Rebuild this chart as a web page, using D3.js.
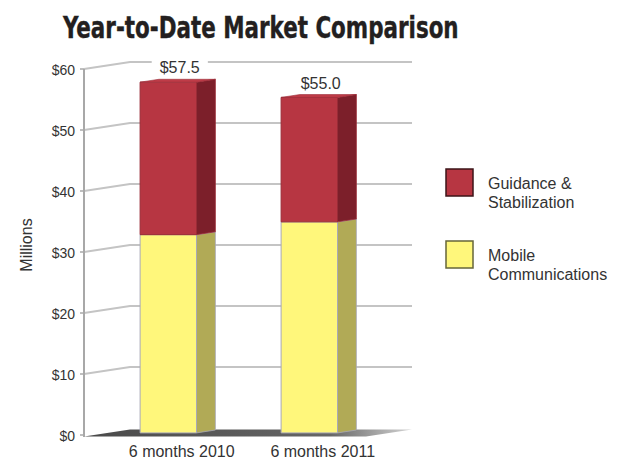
<!DOCTYPE html>
<html>
<head>
<meta charset="utf-8">
<script src="https://cdn.jsdelivr.net/npm/d3@7"></script>
<style>
  html, body { margin: 0; padding: 0; background: #fff; }
  svg { display: block; }
</style>
</head>
<body>
<div id="chart"></div>
<script>
// ---------------------------------------------
// DATA
// ---------------------------------------------
const categories = ["6 months 2010", "6 months 2011"];
const mobileValues = [32.5, 34.6];
const guidanceValues = [25.0, 20.4];
const yTicks = [0, 10, 20, 30, 40, 50, 60];
const seriesKeys = ["mobile", "guidance"];
const legendLines = [["Guidance &", "Stabilization"], ["Mobile", "Communications"]];
const legendKeys = ["guidance", "mobile"];

const drawChart = () => {

  // -----------------------------
  // DIMENSIONS + 3D PROJECTION
  // depth is drawn as a shift right/up
  // -----------------------------
  const width = 620;
  const height = 460;
  const plot = { left: 84, right: 366, top: 69, bottom: 435 };
  const depthX = 46, depthY = -7;
  const barZ0 = 0.3, barZ1 = 0.71;

  const proj = (x, y, z) => [x + z * depthX, y + z * depthY];

  const colors = {
    mobile:   { front: "#fff77b", side: "#b1aa56", top: "#fffaa6", stroke: "#a8a8b8" },
    guidance: { front: "#b73642", side: "#7c1f2a", top: "#bf3c48", stroke: "#9a2c37" }
  };

  const svg = d3.select("#chart")
    .append("svg")
    .attr("width", width)
    .attr("height", height)
    .attr("viewBox", `0 0 ${width} ${height}`);

  // -----------------------------
  // SCALES
  // -----------------------------
  const x = d3.scaleBand()
    .domain(categories)
    .range([plot.left, plot.right])
    .paddingInner(0.6)
    .paddingOuter(0.3);

  const y = d3.scaleLinear()
    .domain([0, 60])
    .range([plot.bottom, plot.top]);

  const rows = categories.map((c, i) => ({ cat: c, mobile: mobileValues[i], guidance: guidanceValues[i] }));
  const stacked = d3.stack().keys(seriesKeys)(rows);

  // -----------------------------
  // TITLE (condensed heavy look: fit width, stretch height)
  // -----------------------------
  const titleG = svg.append("g");
  const title = titleG.append("text")
    .attr("x", 0)
    .attr("y", 0)
    .style("font-family", "'Liberation Sans Narrow', 'DejaVu Sans Condensed', sans-serif")
    .style("font-weight", "bold")
    .style("font-size", "30px")
    .style("fill", "#231f20")
    .style("stroke", "#231f20")
    .style("stroke-width", "0.3px")
    .text("Year-to-Date Market Comparison");
  const tw = title.node().getComputedTextLength();
  const fs = 30 * 396 / tw;
  title.style("font-size", fs.toFixed(2) + "px");
  const sy = 22.5 / (0.729 * fs);
  titleG.attr("transform", `translate(63,37.5) scale(1,${sy.toFixed(3)})`);

  // -----------------------------
  // GRIDLINES (front -> back wall)
  // -----------------------------
  const grid = svg.append("g").attr("class", "grid");
  grid.selectAll("polyline")
    .data(yTicks.filter(d => d > 0))
    .join("polyline")
    .attr("points", d => {
      const a = proj(plot.left, y(d), 0);
      const b = proj(plot.left, y(d), 1);
      const c = proj(plot.right, y(d), 1);
      return [a, b, c].map(p => p.join(",")).join(" ");
    })
    .attr("fill", "none")
    .attr("stroke", "#c4c4c4")
    .attr("stroke-width", 2);

  // -----------------------------
  // FLOOR
  // -----------------------------
  const grad = svg.append("defs").append("linearGradient")
    .attr("id", "floorGrad")
    .attr("gradientUnits", "userSpaceOnUse")
    .attr("x1", plot.left).attr("x2", plot.right + depthX)
    .attr("y1", 0).attr("y2", 0);
  grad.append("stop").attr("offset", 0).attr("stop-color", "#4a4a4a");
  grad.append("stop").attr("offset", 0.75).attr("stop-color", "#666");
  grad.append("stop").attr("offset", 1).attr("stop-color", "#d4d4d4");

  const fy = y(0) + 1.5;
  svg.append("polygon")
    .attr("points", [
      proj(plot.left, fy, 0), proj(plot.left, fy, 1),
      proj(plot.right, fy, 1), proj(plot.right, fy, 0)
    ].map(p => p.join(",")).join(" "))
    .attr("fill", "url(#floorGrad)");

  // -----------------------------
  // Y AXIS (front edge) + LABELS
  // -----------------------------
  svg.append("line")
    .attr("x1", plot.left).attr("x2", plot.left)
    .attr("y1", y(60)).attr("y2", y(0) + 2)
    .attr("stroke", "#a8a8a8")
    .attr("stroke-width", 2);

  const ticks = svg.append("g").attr("class", "y-ticks");
  ticks.selectAll("line")
    .data(yTicks)
    .join("line")
    .attr("x1", plot.left - 4).attr("x2", plot.left)
    .attr("y1", d => y(d)).attr("y2", d => y(d))
    .attr("stroke", "#a8a8a8")
    .attr("stroke-width", 1.5);

  ticks.selectAll("text")
    .data(yTicks)
    .join("text")
    .attr("x", 75)
    .attr("y", d => y(d) + 6)
    .attr("text-anchor", "end")
    .style("font-family", "'Liberation Sans', Arial, sans-serif")
    .style("font-size", "14px")
    .style("fill", "#333")
    .text(d => "$" + d);

  svg.append("text")
    .attr("transform", "translate(32,245) rotate(-90)")
    .attr("text-anchor", "middle")
    .style("font-family", "'Liberation Sans', Arial, sans-serif")
    .style("font-size", "16px")
    .style("fill", "#333")
    .text("Millions");

  // -----------------------------
  // STACKED 3D BARS
  // draw bottom segment first so upper faces cover it
  // -----------------------------
  const bw = x.bandwidth();
  const barCenter = cat => x(cat) + barZ0 * depthX + (bw + (barZ1 - barZ0) * depthX) / 2;
  const bars = svg.append("g").attr("class", "bars");

  stacked.forEach(layer => {
    const c = colors[layer.key];
    layer.forEach(seg => {
      const x0 = x(seg.data.cat);
      const yb = y(seg[0]), yt = y(seg[1]);
      const fbl = proj(x0, yb, barZ0), ftl = proj(x0, yt, barZ0);
      const fbr = proj(x0 + bw, yb, barZ0), ftr = proj(x0 + bw, yt, barZ0);
      const bbr = proj(x0 + bw, yb, barZ1), btr = proj(x0 + bw, yt, barZ1);
      const btl = proj(x0, yt, barZ1);
      const pts = arr => arr.map(p => p.join(",")).join(" ");

      bars.append("polygon")
        .attr("points", pts([fbr, ftr, btr, bbr]))
        .attr("fill", c.side)
        .attr("stroke", c.stroke).attr("stroke-width", 0.8);

      bars.append("polygon")
        .attr("points", pts([fbl, ftl, ftr, fbr]))
        .attr("fill", c.front)
        .attr("stroke", c.stroke).attr("stroke-width", 1);

      bars.append("polygon")
        .attr("points", pts([ftl, btl, btr, ftr]))
        .attr("fill", c.top)
        .attr("stroke", c.stroke).attr("stroke-width", 0.6);
    });
  });

  // -----------------------------
  // TOTAL LABELS (white box cuts the gridline)
  // -----------------------------
  const fmt = d3.format("$.1f");
  const top = stacked[stacked.length - 1];
  top.forEach(seg => {
    const g = svg.append("g");
    const t = g.append("text")
      .attr("x", barCenter(seg.data.cat) + 2)
      .attr("y", y(seg[1]) - 11)
      .attr("text-anchor", "middle")
      .style("font-family", "'Liberation Sans', Arial, sans-serif")
      .style("font-size", "16px")
      .style("fill", "#333")
      .text(fmt(seg[1]));
    const bb = t.node().getBBox();
    g.insert("rect", "text")
      .attr("x", bb.x - 8).attr("y", bb.y)
      .attr("width", bb.width + 16).attr("height", bb.height)
      .attr("fill", "#fff");
  });

  // -----------------------------
  // CATEGORY LABELS
  // -----------------------------
  svg.append("g").selectAll("text")
    .data(categories)
    .join("text")
    .attr("x", d => barCenter(d) + 4)
    .attr("y", 457)
    .attr("text-anchor", "middle")
    .style("font-family", "'Liberation Sans', Arial, sans-serif")
    .style("font-size", "16px")
    .style("fill", "#333")
    .text(d => d);

  // -----------------------------
  // LEGEND
  // -----------------------------
  const legend = svg.append("g").attr("transform", "translate(446,169)");
  const item = legend.selectAll("g")
    .data(legendKeys)
    .join("g")
    .attr("transform", (d, i) => `translate(0,${i * 72})`);

  item.append("rect")
    .attr("width", 27).attr("height", 27)
    .attr("fill", d => colors[d].front)
    .attr("stroke", d => d === "guidance" ? "#3d1519" : "#66663a")
    .attr("stroke-width", 1.5);

  item.append("text")
    .attr("x", 42)
    .attr("y", 20)
    .style("font-family", "'Liberation Sans', Arial, sans-serif")
    .style("font-size", "16px")
    .style("fill", "#333")
    .selectAll("tspan")
    .data((d, i) => legendLines[i])
    .join("tspan")
    .attr("x", 42)
    .attr("dy", (d, j) => j === 0 ? 0 : 19)
    .text(d => d);
};

drawChart();
</script>
</body>
</html>
